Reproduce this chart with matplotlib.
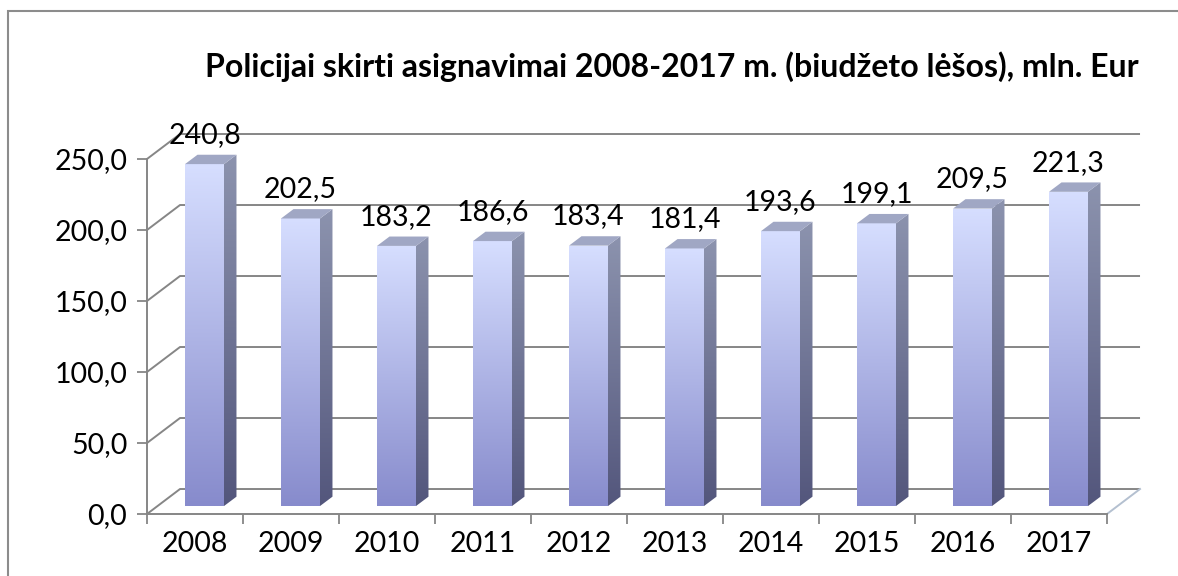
import numpy as np
import matplotlib
matplotlib.use('Agg')
import matplotlib.pyplot as plt
from matplotlib.patches import Polygon, Rectangle
from matplotlib.colors import LinearSegmentedColormap
from matplotlib.ticker import FixedLocator, FixedFormatter

# ---- data ----
years = ['2008', '2009', '2010', '2011', '2012', '2013', '2014', '2015', '2016', '2017']
values = [240.8, 202.5, 183.2, 186.6, 183.4, 181.4, 193.6, 199.1, 209.5, 221.3]
value_labels = ['240,8', '202,5', '183,2', '186,6', '183,4', '181,4', '193,6', '199,1', '209,5', '221,3']
yticks = [0, 50, 100, 150, 200, 250]
ytick_labels = ['0,0', '50,0', '100,0', '150,0', '200,0', '250,0']
title = 'Policijai skirti asignavimai 2008-2017 m. (biudžeto lėšos), mln. Eur'

# ---- style ----
W, H = 1178, 576
FONT = 'Lato'
FS = 20.5
GRID = '#868686'
DX, DY = 0.344, 17.6      # depth of the 3D box (data units)
BAR_OFF, BAR_W = 0.396, 0.406
BASE = 5.6
SX, SY = 0.13, 6.6        # bar depth
FRONT_TOP, FRONT_BOT = '#D6DEFF', '#878BCC'
SIDE_TOP, SIDE_BOT = '#8C93AE', '#53567C'
TOP_FACE = '#A0A7C4'

fig = plt.figure(figsize=(W / 100, H / 100), dpi=100)
fig.patch.set_facecolor('white')
ax = fig.add_axes([147 / W, (H - 514) / H, 960 / W, 355 / H])
ax.set_xlim(0, len(years))
ax.set_ylim(0, 250)
ax.set_facecolor('none')

n = len(years)

# back wall gridlines + left wall diagonals
for v in yticks:
    ax.plot([0, DX, n + DX], [v, v + DY, v + DY], color=GRID, lw=1.4,
            zorder=1, clip_on=False, solid_capstyle='butt')
# floor right edge
ax.plot([n, n + DX], [0, DY], color='#B4C0D0', lw=1.4, zorder=1, clip_on=False)


def grad_poly(verts, c_top, c_bot, y0, y1, z):
    poly = Polygon(verts, closed=True, fc='none', ec='none', transform=ax.transData)
    ax.add_patch(poly)
    cmap = LinearSegmentedColormap.from_list('g', [c_bot, c_top])
    xs = [p[0] for p in verts]
    img = ax.imshow(np.linspace(0, 1, 256).reshape(-1, 1),
                    extent=(min(xs), max(xs), y0, y1), origin='lower',
                    cmap=cmap, aspect='auto', zorder=z, interpolation='bilinear')
    img.set_clip_box(fig.bbox)
    img.set_clip_path(poly)


for i, (v, lab) in enumerate(zip(values, value_labels)):
    x0 = i + BAR_OFF
    x1 = x0 + BAR_W
    yb = BASE
    yt = BASE + v
    # front face
    grad_poly([(x0, yb), (x1, yb), (x1, yt), (x0, yt)], FRONT_TOP, FRONT_BOT, yb, yt, 3)
    # side face
    grad_poly([(x1, yb), (x1 + SX, yb + SY), (x1 + SX, yt + SY), (x1, yt)],
              SIDE_TOP, SIDE_BOT, yb, yt + SY, 3)
    # top face
    ax.add_patch(Polygon([(x0, yt), (x1, yt), (x1 + SX, yt + SY), (x0 + SX, yt + SY)],
                         closed=True, fc=TOP_FACE, ec='none', zorder=3, clip_on=False))
    ax.text((x0 + x1) / 2, yt + 20.5, lab, ha='center', va='center',
            fontsize=FS, family=FONT, color='black', zorder=5, clip_on=False)

ax.set_xlim(0, n)
ax.set_ylim(0, 250)

# axes
for s in ['top', 'right']:
    ax.spines[s].set_visible(False)
for s in ['left', 'bottom']:
    ax.spines[s].set_color(GRID)
    ax.spines[s].set_linewidth(1.4)
    ax.spines[s].set_zorder(2)

ax.set_yticks(yticks)
ax.set_yticklabels(ytick_labels)
ax.xaxis.set_major_locator(FixedLocator(list(range(n + 1))))
ax.xaxis.set_major_formatter(FixedFormatter([''] * (n + 1)))
ax.xaxis.set_minor_locator(FixedLocator([i + 0.5 for i in range(n)]))
ax.xaxis.set_minor_formatter(FixedFormatter(years))
ax.tick_params(axis='y', length=7.2, width=1.3, color=GRID, pad=7, labelsize=FS)
ax.tick_params(axis='x', which='major', length=7.2, width=1.3, color=GRID)
ax.tick_params(axis='x', which='minor', length=0, pad=12, labelsize=FS)
for t in ax.get_yticklabels() + ax.get_xticklabels(minor=True):
    t.set_family(FONT)

fig.text(672 / W, 1 - 67 / H, title, ha='center', va='center',
         fontsize=23, fontweight='bold', family=FONT)

# chart border
fig.add_artist(Rectangle((7.5 / W, -0.1), 1.2, 1 - 11 / H + 0.1, transform=fig.transFigure,
                         fill=False, ec='#8C8C8C', lw=1.5))

fig.savefig('out.png', dpi=100)
